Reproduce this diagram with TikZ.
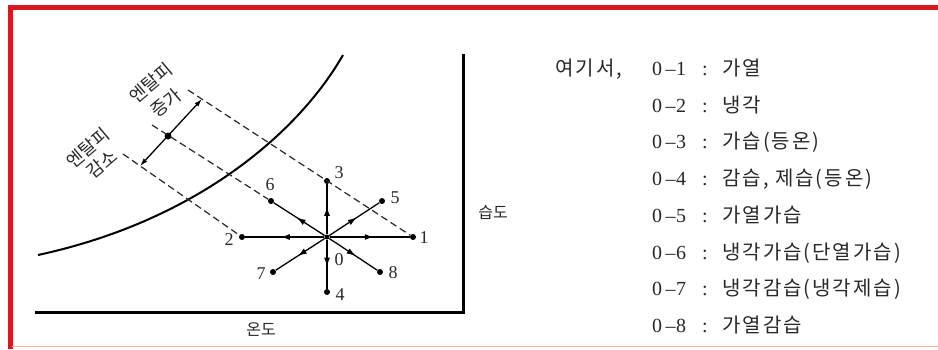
\documentclass[tikz,border=0pt]{standalone}
\usepackage{fontspec}
\setmainfont{Liberation Serif}
\newfontfamily\kr{Noto Sans CJK KR}
\usetikzlibrary{arrows.meta,decorations.markings}
\definecolor{frame}{RGB}{218,24,32}
\definecolor{framelight}{RGB}{255,175,155}
\definecolor{ink}{RGB}{40,40,40}
\newcommand\lnum[1]{\makebox[13pt][l]{0}\makebox[11pt][c]{–}\makebox[12pt][l]{#1}\hspace{14pt}\makebox[8pt][l]{:}\hspace{12pt}}
\begin{document}
\begin{tikzpicture}[x=1pt,y=-1pt,
  dot/.style={circle,fill=black,inner sep=0pt,minimum size=6pt},
  num/.style={font=\fontsize{18}{18}\selectfont,text=ink,inner sep=0pt},
  spoke/.style={line width=1.3pt,postaction={decorate},
    decoration={markings,mark=at position 0.55 with {\arrow{Latex[length=9pt,width=6pt]}}}},
  guide/.style={line width=1.2pt,dash pattern=on 7pt off 4pt,draw=ink},
  axisline/.style={line width=3pt,line cap=rect},
  klabel/.style={font=\kr\fontsize{16}{16}\selectfont,text=ink,inner sep=0pt},
  rlabel/.style={font=\kr\fontsize{18}{18}\selectfont,text=ink,inner sep=0pt,rotate=40},
  txt/.style={font=\kr\fontsize{20}{20}\selectfont\addfontfeature{LetterSpace=10},text=ink,inner sep=0pt,anchor=base west}]
\useasboundingbox (0,0) rectangle (938,349);
\fill[white] (0,0) rectangle (938,349);
% frame
\draw[frame,line width=4.5pt] (10.5,349) -- (10.5,7.5) -- (938,7.5);
\draw[framelight,line width=1.5pt] (12,346.5) -- (938,346.5);
% axes
\coordinate (ax0) at (36,312);
\coordinate (ax1) at (463,312);
\coordinate (ax2) at (463,55);
\draw[axisline] (ax0) -- (ax1) -- (ax2);
\node[klabel] (tlab) at (261,330) {온도};
\node[klabel] (hlab) at (493,212) {습도};
% saturation curve
\coordinate (c0) at (38,255);
\coordinate (c1) at (343,55);
\draw[line width=2pt] (c0) .. controls (200,220) and (300,130) .. (c1);
% state points
\node[dot,minimum size=5pt] (o) at (327,237) {};
\node[dot] (p1) at (413,237) {};
\node[dot] (p2) at (242,237) {};
\node[dot] (p3) at (327,181) {};
\node[dot] (p4) at (327,292) {};
\node[dot] (p5) at (382,201) {};
\node[dot] (p6) at (271,201) {};
\node[dot] (p7) at (273,272) {};
\node[dot] (p8) at (380,272) {};
% guide lines (constant enthalpy)
\coordinate (aup) at (202,99);
\coordinate (alow) at (140,166);
\node[dot,minimum size=7pt] (d) at (168,136) {};
\coordinate (eup) at (188,90);
\coordinate (emid) at (152,125);
\coordinate (elow) at (123,154);
\draw[guide] (eup) -- (p1);
\draw[guide] (emid) -- (p6);
\draw[guide] (elow) -- (p2);
\draw[line width=1.3pt,{Latex[length=8pt,width=5pt]}-{Latex[length=8pt,width=5pt]}] (alow) -- (aup);
% spokes
\foreach \p in {p1,p2,p3,p4,p5,p6,p7,p8}{\draw[spoke] (o) -- (\p);}
% point labels
\node[num] (l0) at (339,260) {0};
\node[num] (l1) at (424,238) {1};
\node[num] (l2) at (229,240) {2};
\node[num] (l3) at (339,173) {3};
\node[num] (l4) at (340,295) {4};
\node[num] (l5) at (395,198) {5};
\node[num] (l6) at (270,185) {6};
\node[num] (l7) at (261,274) {7};
\node[num] (l8) at (393,273) {8};
% enthalpy labels
\node[rlabel] (up1) at (151,83) {엔탈피};
\node[rlabel] (up2) at (166,103) {증가};
\node[rlabel] (dn1) at (88,148) {엔탈피};
\node[rlabel] (dn2) at (102,164) {감소};
% legend
\node[txt] (h) at (555,75.5) {여기서,};
\node[txt] (r1) at (652,75.5) {{\rmfamily\lnum{1}}가열};
\node[txt] (r2) at (652,112.2) {{\rmfamily\lnum{2}}냉각};
\node[txt] (r3) at (652,148.9) {{\rmfamily\lnum{3}}가습(등온)};
\node[txt] (r4) at (652,185.6) {{\rmfamily\lnum{4}}감습, 제습(등온)};
\node[txt] (r5) at (652,222.3) {{\rmfamily\lnum{5}}가열가습};
\node[txt] (r6) at (652,259) {{\rmfamily\lnum{6}}냉각가습(단열가습)};
\node[txt] (r7) at (652,295.7) {{\rmfamily\lnum{7}}냉각감습(냉각제습)};
\node[txt] (r8) at (652,332.4) {{\rmfamily\lnum{8}}가열감습};
\end{tikzpicture}
\end{document}
